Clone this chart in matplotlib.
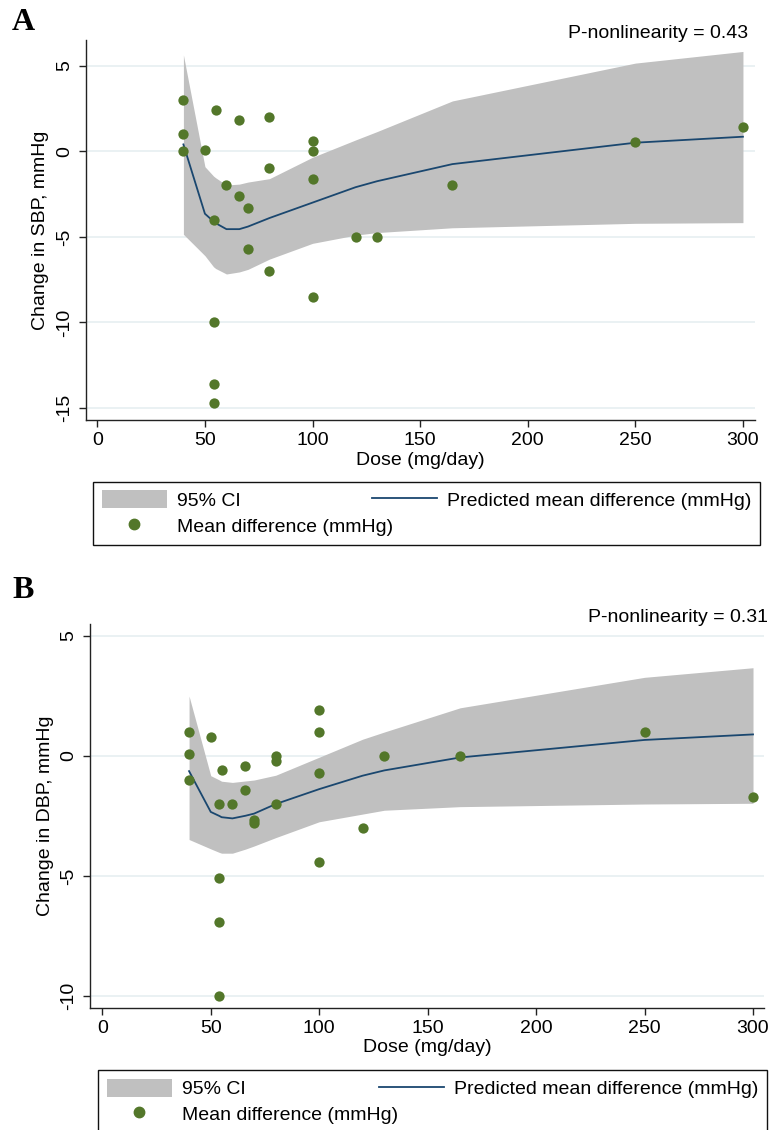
import matplotlib
matplotlib.use("Agg")
import matplotlib.pyplot as plt
from matplotlib.lines import Line2D
from matplotlib.patches import Patch

plt.rcParams['font.family'] = ['Liberation Sans', 'DejaVu Sans']
plt.rcParams['axes.unicode_minus'] = False

# Panel A (SBP) - spline fit evaluated at the study doses
fit_dose_a = [40, 50, 54, 55, 60, 66, 70, 80, 100, 120, 130, 165, 250, 300]
pred_a = [0.4, -3.65, -4.1, -4.2, -4.55, -4.55, -4.4, -3.9, -3.0, -2.1, -1.75, -0.75, 0.5, 0.85]
upper_a = [5.63, -0.9, -1.45, -1.55, -1.97, -1.92, -1.8, -1.6, -0.35, 0.66, 1.15, 2.94, 5.15, 5.83]
lower_a = [-4.85, -6.1, -6.75, -6.85, -7.17, -7.05, -6.9, -6.3, -5.38, -4.9, -4.75, -4.47, -4.21, -4.17]

dose_a = [40, 40, 40, 50, 54, 54, 54, 54, 55, 60, 66, 66, 70, 70, 80, 80, 80,
          100, 100, 100, 100, 120, 130, 165, 250, 300]
md_a = [3.0, 1.0, 0.0, 0.1, -4.0, -10.0, -13.6, -14.7, 2.4, -2.0, 1.8, -2.6, -3.3, -5.7,
        2.0, -1.0, -7.0, 0.6, 0.0, -1.6, -8.5, -5.0, -5.0, -2.0, 0.55, 1.4]

# Panel B (DBP)
fit_dose_b = [40, 50, 54, 55, 60, 66, 70, 80, 100, 120, 130, 165, 250, 300]
pred_b = [-0.63, -2.33, -2.5, -2.55, -2.6, -2.49, -2.4, -2.0, -1.38, -0.82, -0.6, -0.06, 0.67, 0.9]
upper_b = [2.5, -0.82, -1.0, -1.05, -1.1, -1.04, -1.0, -0.8, -0.05, 0.7, 1.0, 2.01, 3.28, 3.68]
lower_b = [-3.48, -3.87, -4.02, -4.05, -4.05, -3.88, -3.75, -3.4, -2.74, -2.42, -2.26, -2.11, -2.0, -1.97]

dose_b = [40, 40, 40, 50, 54, 54, 54, 54, 55, 60, 66, 66, 70, 70, 80, 80, 80,
          100, 100, 100, 100, 120, 130, 165, 250, 300]
md_b = [1.0, 0.1, -1.0, 0.8, -2.0, -5.1, -6.9, -10.0, -0.6, -2.0, -0.4, -1.43, -2.67, -2.8,
        0.0, -0.2, -2.0, 1.9, 1.0, -0.7, -4.4, -3.0, 0.0, 0.0, 1.0, -1.7]

xticks = [0, 50, 100, 150, 200, 250, 300]

ci_color = '#c0c0c0'
line_color = '#1a476f'
dot_color = '#53772a'
grid_color = '#e6eff1'
FS = 14

fig = plt.figure(figsize=(7.73, 11.3), dpi=100)
W, H = 773, 1130


def panel(rect, fit_x, pred, lo, hi, px, py, yticks, xlim, ylim, ylabel):
    ax = fig.add_axes(rect)
    ax.fill_between(fit_x, lo, hi, color=ci_color, linewidth=0, zorder=1)
    ax.plot(fit_x, pred, color=line_color, lw=1.3, zorder=2)
    ax.scatter(px, py, s=55, color=dot_color, linewidths=0, zorder=3)
    ax.set_xlim(*xlim)
    ax.set_ylim(*ylim)
    ax.set_xticks(xticks)
    ax.set_yticks(yticks)
    ax.yaxis.grid(True, color=grid_color, lw=1.2)
    ax.set_axisbelow(True)
    for s in ['top', 'right']:
        ax.spines[s].set_visible(False)
    for s in ['left', 'bottom']:
        ax.spines[s].set_color('#222222')
        ax.spines[s].set_linewidth(1.0)
    ax.tick_params(axis='both', labelsize=FS, length=5, width=1.0, color='#222222')
    ax.tick_params(axis='y', pad=4)
    for lab in ax.get_yticklabels():
        lab.set_rotation(90)
        lab.set_va('center')
    ax.set_xlabel('Dose (mg/day)', fontsize=FS, labelpad=2)
    ax.set_ylabel(ylabel, fontsize=FS, labelpad=5)
    return ax


panel([85.7 / W, 1 - 420 / H, 669.3 / W, 380 / H], fit_dose_a, pred_a, lower_a, upper_a,
      dose_a, md_a, [5, 0, -5, -10, -15], (-5.4, 305.6), (-15.7, 6.5),
      'Change in SBP, mmHg')
panel([90 / W, 1 - 1007.7 / H, 674.3 / W, 383.4 / H], fit_dose_b, pred_b, lower_b, upper_b,
      dose_b, md_b, [5, 0, -5, -10], (-5.67, 305.2), (-10.49, 5.49),
      'Change in DBP, mmHg')

fig.text(748 / W, 1 - 33 / H, 'P-nonlinearity = 0.43', ha='right', va='center', fontsize=FS)
fig.text(768 / W, 1 - 617 / H, 'P-nonlinearity = 0.31', ha='right', va='center', fontsize=FS)

fig.text(12 / W, 1 - 23 / H, 'A', ha='left', va='center', fontsize=23,
         fontweight='bold', family='Liberation Serif')
fig.text(12 / W, 1 - 591 / H, 'B', ha='left', va='center', fontsize=23,
         fontweight='bold', family='Liberation Serif')

handles = [Patch(facecolor=ci_color, edgecolor='none'),
           Line2D([], [], ls='none', marker='o', ms=7.5, mfc=dot_color, mec=dot_color),
           Line2D([], [], color=line_color, lw=1.3)]
labels = ['95% CI', 'Mean difference (mmHg)', 'Predicted mean difference (mmHg)']


def legend(x0, top, x1):
    fig.legend(handles, labels, loc='upper left',
               bbox_to_anchor=(x0 / W, 1 - (top + 60) / H, (x1 - x0) / W, 60 / H),
               mode='expand', ncol=2, fontsize=FS, frameon=True, fancybox=False,
               edgecolor='#111111', framealpha=1, borderpad=0.45, borderaxespad=0,
               handlelength=3.35, handleheight=1.05, handletextpad=0.5,
               labelspacing=0.32, numpoints=1).get_frame().set_linewidth(1.0)


legend(93, 481.7, 760)
legend(98, 1070, 767)

fig.savefig('out.png', dpi=100)
